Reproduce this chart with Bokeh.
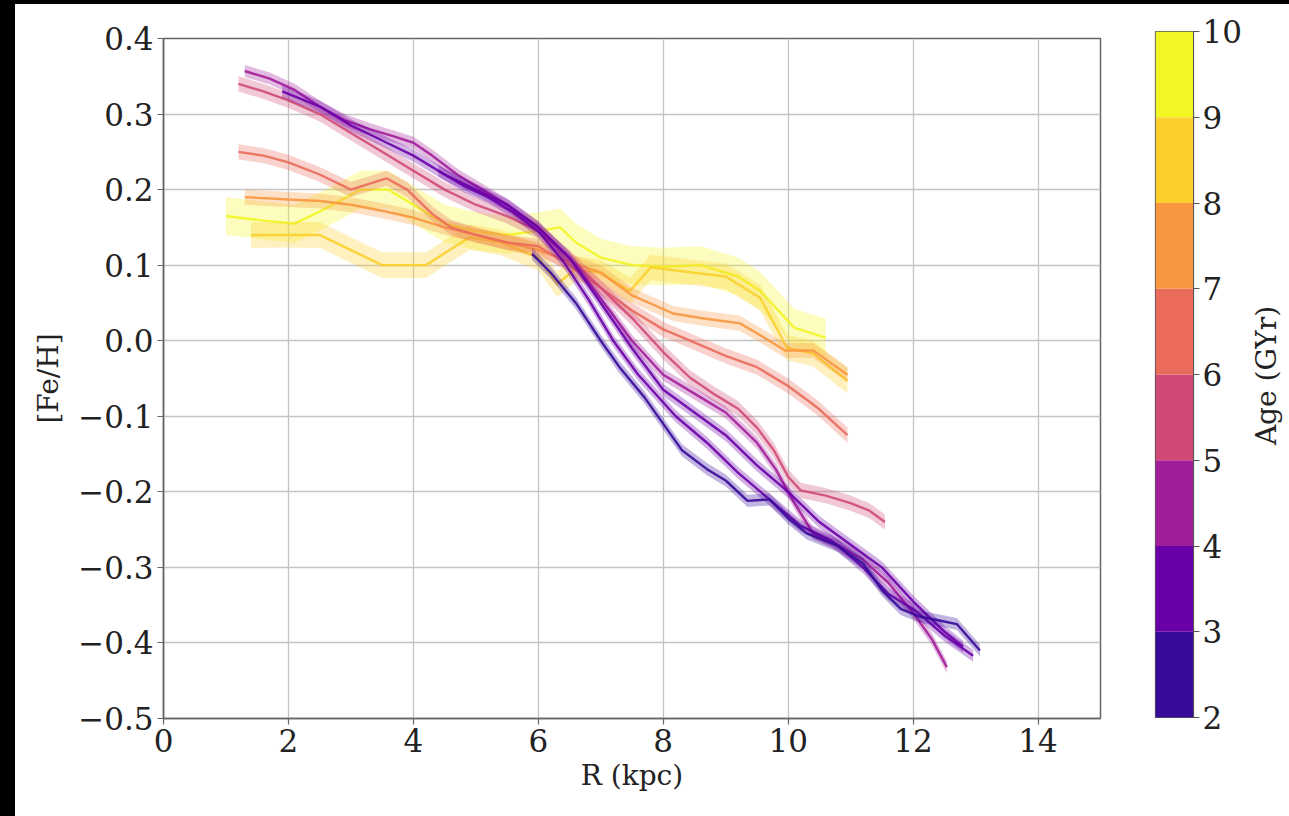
import math
from bokeh.plotting import figure
from bokeh.models import Range1d, FixedTicker, CustomJSTickFormatter, Spacer
from bokeh.core.properties import value
from bokeh.layouts import row, column
from bokeh.embed import file_html
from bokeh.resources import INLINE

# ---------------- data ----------------
age_edges = [2, 3, 4, 5, 6, 7, 8, 9, 10]
age_palette = ["#370a9a", "#6a00a8", "#a21d9a", "#d04a78",
               "#ea6b5b", "#f8973f", "#fccf2c", "#f2f623"]
x_ticks = [0, 2, 4, 6, 8, 10, 12, 14]
y_ticks = [-0.5, -0.4, -0.3, -0.2, -0.1, 0.0, 0.1, 0.2, 0.3, 0.4]
colorbar_label = "Age (GYr)"

# age 9.5 (yellow)
R_a95 = [1.0, 1.5, 2.1, 2.6, 3.15, 3.6, 4.0, 4.5, 5.0, 5.5, 6.0, 6.35, 6.6, 7.0,
         7.5, 8.0, 8.6, 9.2, 9.55, 10.1, 10.6]
F_a95 = [0.165, 0.16, 0.155, 0.175, 0.2, 0.2, 0.18, 0.155, 0.145, 0.14, 0.145, 0.15,
         0.13, 0.11, 0.1, 0.098, 0.1, 0.085, 0.066, 0.017, 0.004]
# age 8.5 (gold)
R_a85 = [1.4, 2.0, 2.5, 3.0, 3.5, 4.2, 4.9, 5.4, 6.0, 6.3, 6.6, 7.0, 7.47, 7.8,
         8.6, 9.0, 9.55, 9.98, 10.4, 10.95]
F_a85 = [0.14, 0.14, 0.14, 0.12, 0.1, 0.1, 0.137, 0.13, 0.11, 0.075, 0.095, 0.09,
         0.066, 0.097, 0.089, 0.085, 0.057, -0.009, -0.017, -0.053]
# age 7.5 (orange)
R_a75 = [1.3, 2.0, 2.5, 3.0, 3.5, 4.0, 4.5, 5.0, 5.5, 6.0, 6.5, 7.0, 7.5, 8.16,
         8.6, 9.23, 9.6, 9.95, 10.4, 10.95]
F_a75 = [0.19, 0.187, 0.185, 0.18, 0.172, 0.163, 0.15, 0.14, 0.13, 0.12, 0.105,
         0.09, 0.06, 0.036, 0.03, 0.023, 0.005, -0.013, -0.013, -0.045]
# age 6.5 (coral)
R_a65 = [1.2, 1.6, 2.0, 2.5, 3.0, 3.57, 3.9, 4.3, 4.6, 5.0, 5.5, 6.0, 6.5, 7.0,
         7.5, 8.0, 8.43, 9.0, 9.5, 10.0, 10.46, 10.95]
F_a65 = [0.25, 0.245, 0.236, 0.22, 0.2, 0.215, 0.2, 0.168, 0.15, 0.14, 0.13, 0.125,
         0.1, 0.07, 0.04, 0.015, 0.0, -0.02, -0.035, -0.06, -0.088, -0.125]
# age 5.5 (pink)
R_a55 = [1.2, 1.6, 2.0, 2.5, 3.0, 3.5, 4.0, 4.5, 5.0, 5.5, 6.0, 6.5, 7.0, 7.5, 8.0,
         8.43, 8.8, 9.2, 9.5, 9.77, 10.0, 10.2, 10.6, 11.0, 11.3, 11.55]
F_a55 = [0.34, 0.33, 0.318, 0.3, 0.275, 0.25, 0.225, 0.2, 0.18, 0.165, 0.145, 0.11,
         0.07, 0.03, -0.015, -0.049, -0.07, -0.09, -0.115, -0.145, -0.18, -0.198,
         -0.205, -0.215, -0.225, -0.24]
# age 4.5 (magenta)
R_a45 = [1.3, 1.7, 2.1, 2.5, 2.9, 3.3, 3.7, 4.0, 4.3, 4.7, 5.1, 5.5, 6.0, 6.6, 7.1,
         7.5, 8.0, 8.5, 9.0, 9.5, 9.8, 10.1, 10.4, 10.8, 11.2, 11.6, 12.0, 12.3, 12.54]
F_a45 = [0.357, 0.347, 0.332, 0.31, 0.292, 0.28, 0.27, 0.262, 0.245, 0.22, 0.2, 0.18,
         0.15, 0.1, 0.045, 0.0, -0.045, -0.07, -0.095, -0.135, -0.17, -0.215, -0.255,
         -0.27, -0.29, -0.32, -0.36, -0.395, -0.432]
# age 3.5 (purple)
R_a35 = [1.9, 2.5, 3.0, 3.5, 4.0, 4.5, 5.0, 5.5, 6.0, 6.5, 7.0, 7.5, 8.0, 8.5, 9.0,
         9.5, 10.0, 10.5, 11.0, 11.5, 12.0, 12.5, 12.8]
F_a35 = [0.33, 0.31, 0.285, 0.265, 0.245, 0.22, 0.2, 0.18, 0.15, 0.11, 0.05, -0.01,
         -0.065, -0.095, -0.125, -0.165, -0.2, -0.24, -0.27, -0.3, -0.345, -0.385, -0.405]
# age 3.0 (blue-purple)
R_a30 = [4.4, 4.8, 5.2, 5.6, 6.0, 6.4, 6.8, 7.2, 7.6, 8.2, 8.7, 9.2, 9.7, 10.2,
         10.7, 11.2, 11.6, 12.0, 12.5, 12.96]
F_a30 = [0.225, 0.205, 0.19, 0.17, 0.145, 0.105, 0.055, 0.0, -0.045, -0.1, -0.135,
         -0.175, -0.21, -0.245, -0.265, -0.3, -0.335, -0.355, -0.39, -0.417]
# age 2.5 (dark blue)
R_a25 = [5.9, 6.2, 6.6, 7.0, 7.3, 7.7, 8.0, 8.3, 8.7, 9.0, 9.35, 9.7, 10.0, 10.3,
         10.8, 11.2, 11.5, 11.8, 12.1, 12.4, 12.7, 13.07]
F_a25 = [0.115, 0.09, 0.05, 0.0, -0.035, -0.075, -0.11, -0.145, -0.17, -0.185,
         -0.212, -0.21, -0.235, -0.255, -0.272, -0.295, -0.33, -0.355, -0.365, -0.37,
         -0.375, -0.41]

series_ages = [9.5, 8.5, 7.5, 6.5, 5.5, 4.5, 3.5, 3.0, 2.5]
series_R = [R_a95, R_a85, R_a75, R_a65, R_a55, R_a45, R_a35, R_a30, R_a25]
series_F = [F_a95, F_a85, F_a75, F_a65, F_a55, F_a45, F_a35, F_a30, F_a25]
band_halfwidth = [0.025, 0.017, 0.01, 0.01, 0.01, 0.008, 0.008, 0.008, 0.008]

FONT = "DejaVu Serif"
TICK_FS = "31px"
LABEL_FS = "28px"
TXT = "#222222"

# ---------------- main plot ----------------
p = figure(frame_width=937, frame_height=680, output_backend="svg",
           toolbar_location=None, x_range=Range1d(0, 15), y_range=Range1d(-0.5, 0.4),
           min_border_left=148, min_border_right=40, min_border_top=34,
           min_border_bottom=98, background_fill_color="white",
           border_fill_color="white")
p.outline_line_color = "#666666"
p.outline_line_width = 1.5

for age, R, F, hw in zip(series_ages, series_R, series_F, band_halfwidth):
    c = age_palette[int(age) - 2]
    lo = [f - hw for f in F]
    hi = [f + hw for f in F]
    p.varea(x=R, y1=lo, y2=hi, fill_color=c, fill_alpha=0.3)
    p.line(R, F, line_color=c, line_width=2.4, line_alpha=0.9)

p.xaxis.ticker = FixedTicker(ticks=x_ticks)
p.yaxis.ticker = FixedTicker(ticks=y_ticks)
p.yaxis.formatter = CustomJSTickFormatter(
    code="return tick.toFixed(1).replace('-', '\u2212');")
p.xaxis.axis_label = "R (kpc)"
p.yaxis.axis_label = "[Fe/H]"
for ax in (p.xaxis[0], p.yaxis[0]):
    ax.major_label_text_font = FONT
    ax.major_label_text_font_size = TICK_FS
    ax.major_label_text_color = TXT
    ax.axis_label_text_font = FONT
    ax.axis_label_text_font_size = LABEL_FS
    ax.axis_label_text_font_style = "normal"
    ax.axis_label_text_color = TXT
    ax.axis_line_color = "#666666"
    ax.axis_line_width = 1.5
    ax.major_tick_line_color = "#666666"
    ax.major_tick_line_width = 1.2
    ax.major_tick_out = 6
    ax.major_tick_in = 0
    ax.minor_tick_line_color = None
    ax.major_label_standoff = 4
p.xaxis.axis_label_standoff = 4
p.yaxis.axis_label_standoff = 10
p.grid.grid_line_color = "#c4c4c4"
p.grid.grid_line_width = 1.3

# ---------------- colour bar ----------------
cb = figure(frame_width=38, frame_height=686, output_backend="svg",
            toolbar_location=None, x_range=Range1d(0, 1), y_range=Range1d(2, 10),
            y_axis_location="right", min_border_left=15, min_border_right=50,
            min_border_top=27, min_border_bottom=99, border_fill_color="white")
cb.quad(left=0, right=1, bottom=age_edges[:-1], top=age_edges[1:],
        fill_color=age_palette, line_color=None)
cb.xaxis.visible = False
cb.grid.visible = False
cb.outline_line_color = "#555555"
cb.outline_line_width = 1.2
ay = cb.yaxis[0]
ay.ticker = FixedTicker(ticks=age_edges)
ay.major_label_text_font = FONT
ay.major_label_text_font_size = TICK_FS
ay.major_label_text_color = TXT
ay.axis_line_color = "#555555"
ay.major_tick_line_color = "#555555"
ay.major_tick_out = 6
ay.major_tick_in = 0
ay.minor_tick_line_color = None
ay.major_label_standoff = 3

# ---------------- colour-bar title (own small canvas) ----------------
lab = figure(frame_width=46, frame_height=812, output_backend="svg",
             toolbar_location=None, x_range=Range1d(0, 46), y_range=Range1d(0, 812),
             min_border=0, border_fill_color="white", background_fill_color="white")
lab.axis.visible = False
lab.grid.visible = False
lab.outline_line_color = None
lab.text(x=[22], y=[812 - 371], text=[colorbar_label], angle=math.pi / 2,
         text_align="center", text_baseline="middle", text_font=value(FONT),
         text_font_size=value(LABEL_FS), text_color=TXT)

left_black = Spacer(width=15, height=816, styles={"background-color": "black"})
top_black = Spacer(width=1274, height=4, styles={"background-color": "black"})
layout = row(left_black,
             column(top_black,
                    row(p, column(cb, spacing=0), column(lab, spacing=0), spacing=0),
                    spacing=0),
             spacing=0)

open("out.html", "w").write(file_html(layout, INLINE))
